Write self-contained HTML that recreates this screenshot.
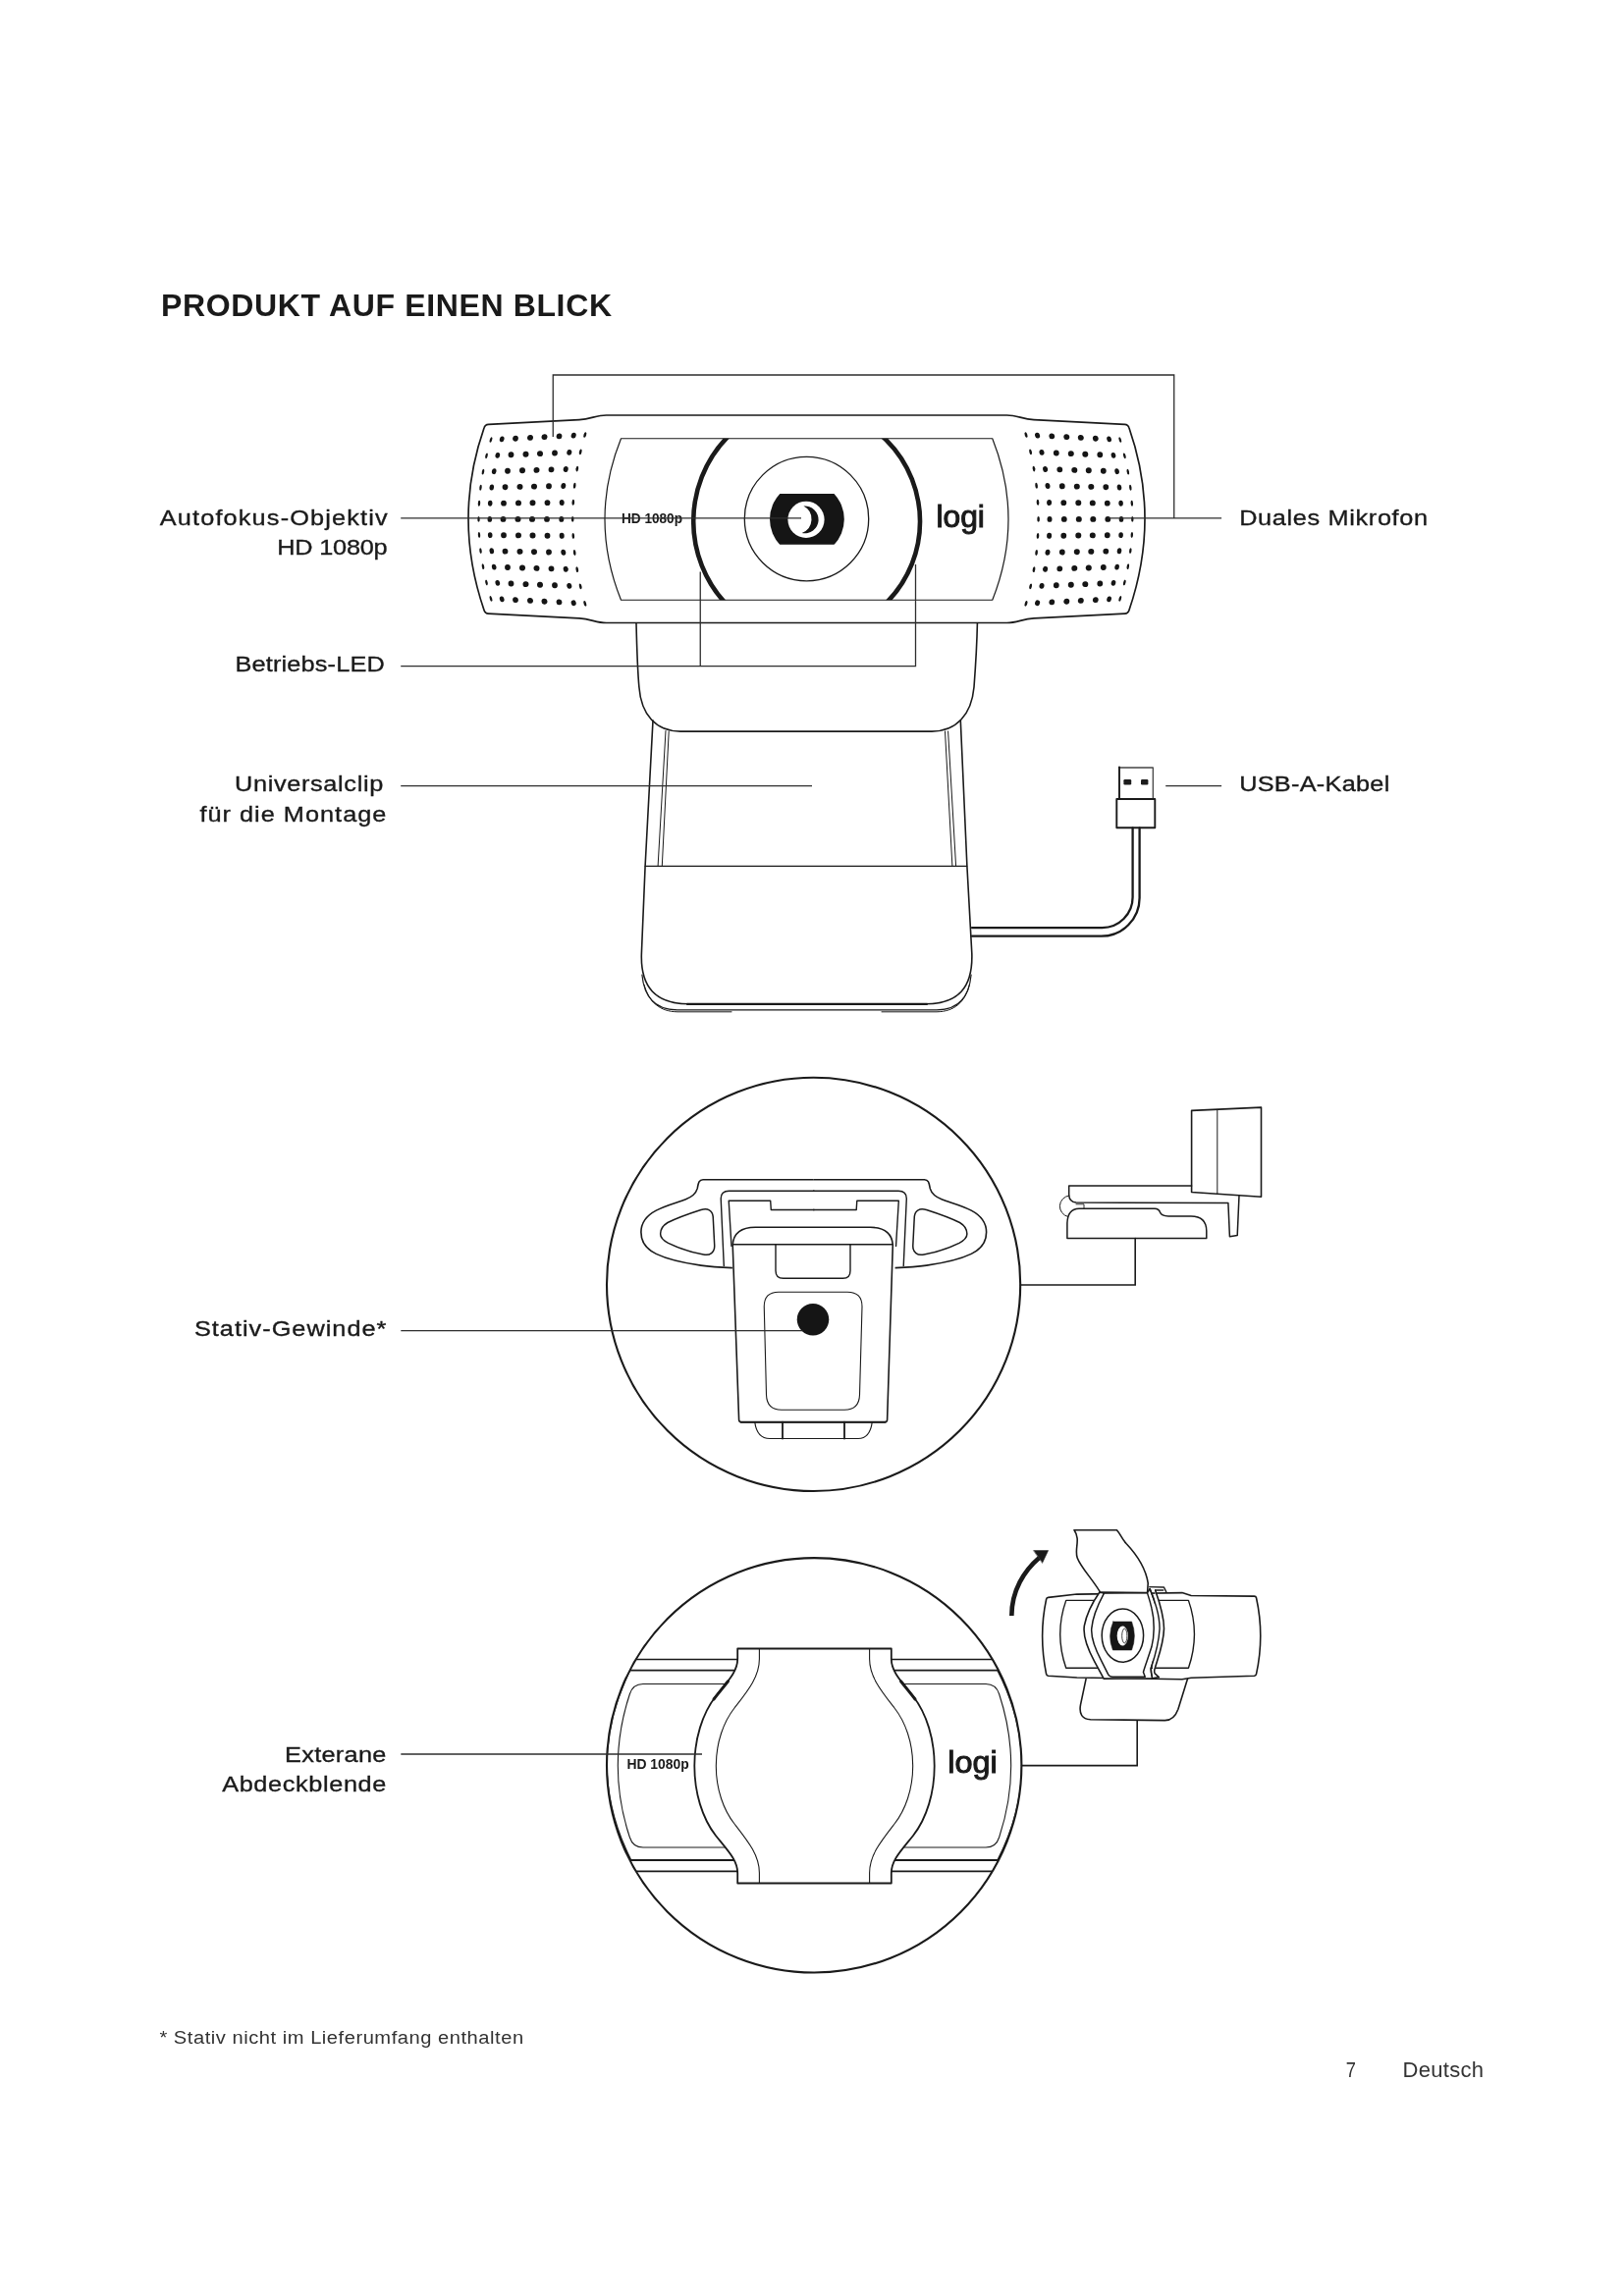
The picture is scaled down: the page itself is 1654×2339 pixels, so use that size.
<!DOCTYPE html>
<html lang="de"><head><meta charset="utf-8"><title>Produkt auf einen Blick</title>
<style>
html,body{margin:0;padding:0;background:#fff;}
body{width:1654px;height:2339px;overflow:hidden;position:relative;}
svg{position:absolute;left:0;top:0;display:block;will-change:transform;}
svg text{font-family:"Liberation Sans",sans-serif;}
</style></head><body>
<svg width="1654" height="2339" viewBox="0 0 1654 2339">
<text transform="translate(164.00,322.40)" font-size="32" font-weight="bold" fill="#1a1a1a" text-anchor="start" xml:space="preserve" textLength="459.00" lengthAdjust="spacing">PRODUKT AUF EINEN BLICK</text>
<text transform="translate(162.80,535.00) scale(1.1200,1)" font-size="22.6" font-weight="normal" fill="#1a1a1a" text-anchor="start" xml:space="preserve" stroke="#1a1a1a" stroke-width="0.35" textLength="207.05" lengthAdjust="spacing">Autofokus-Objektiv</text>
<text transform="translate(282.20,565.30) scale(1.1200,1)" font-size="22.6" font-weight="normal" fill="#1a1a1a" text-anchor="start" xml:space="preserve" stroke="#1a1a1a" stroke-width="0.35" textLength="100.45" lengthAdjust="spacing">HD 1080p</text>
<text transform="translate(239.50,684.30) scale(1.1200,1)" font-size="22.6" font-weight="normal" fill="#1a1a1a" text-anchor="start" xml:space="preserve" stroke="#1a1a1a" stroke-width="0.35" textLength="135.89" lengthAdjust="spacing">Betriebs-LED</text>
<text transform="translate(239.00,806.30) scale(1.1200,1)" font-size="22.6" font-weight="normal" fill="#1a1a1a" text-anchor="start" xml:space="preserve" stroke="#1a1a1a" stroke-width="0.35" textLength="135.09" lengthAdjust="spacing">Universalclip</text>
<text transform="translate(203.40,837.40) scale(1.1200,1)" font-size="22.6" font-weight="normal" fill="#1a1a1a" text-anchor="start" xml:space="preserve" stroke="#1a1a1a" stroke-width="0.35" textLength="169.64" lengthAdjust="spacing">für die Montage</text>
<text transform="translate(1262.20,535.00) scale(1.1200,1)" font-size="22.6" font-weight="normal" fill="#1a1a1a" text-anchor="start" xml:space="preserve" stroke="#1a1a1a" stroke-width="0.35" textLength="171.34" lengthAdjust="spacing">Duales Mikrofon</text>
<text transform="translate(1262.20,806.30) scale(1.1200,1)" font-size="22.6" font-weight="normal" fill="#1a1a1a" text-anchor="start" xml:space="preserve" stroke="#1a1a1a" stroke-width="0.35" textLength="136.70" lengthAdjust="spacing">USB-A-Kabel</text>
<text transform="translate(197.90,1361.00) scale(1.1200,1)" font-size="22.6" font-weight="normal" fill="#1a1a1a" text-anchor="start" xml:space="preserve" stroke="#1a1a1a" stroke-width="0.35" textLength="174.55" lengthAdjust="spacing">Stativ-Gewinde*</text>
<text transform="translate(290.00,1794.50) scale(1.1200,1)" font-size="22.6" font-weight="normal" fill="#1a1a1a" text-anchor="start" xml:space="preserve" stroke="#1a1a1a" stroke-width="0.35" textLength="92.32" lengthAdjust="spacing">Exterane</text>
<text transform="translate(226.20,1824.50) scale(1.1200,1)" font-size="22.6" font-weight="normal" fill="#1a1a1a" text-anchor="start" xml:space="preserve" stroke="#1a1a1a" stroke-width="0.35" textLength="149.29" lengthAdjust="spacing">Abdeckblende</text>
<text transform="translate(162.40,2082.00) scale(1.0600,1)" font-size="19" font-weight="normal" fill="#333" text-anchor="start" xml:space="preserve" textLength="349.72" lengthAdjust="spacing">* Stativ nicht im Lieferumfang enthalten</text>
<text transform="translate(1370.80,2116.40)" font-size="22" font-weight="normal" fill="#333" text-anchor="start" xml:space="preserve" textLength="10.20" lengthAdjust="spacingAndGlyphs">7</text>
<text transform="translate(1428.60,2116.40)" font-size="22" font-weight="normal" fill="#333" text-anchor="start" xml:space="preserve" textLength="82.40" lengthAdjust="spacing">Deutsch</text>
<path d="M 617.5,423 L 1025.5,423 C 1036,423 1041,427 1053,427.7 L 1145.5,432.3 Q 1149,432.5 1150,436 Q 1182,528 1150,621.5 Q 1149,625 1145.5,625.2 L 1053,629.8 C 1041,630.5 1036,634.5 1025.5,634.5 L 617.5,634.5 C 607,634.5 602,630.5 590,629.8 L 497.5,625.2 Q 494,625 493,621.5 Q 461,528 493,436 Q 494,432.5 497.5,432.3 L 590,427.7 C 602,427 607,423 617.5,423 Z" fill="none" stroke="#1a1a1a" stroke-width="1.7" stroke-linejoin="round" stroke-linecap="round" />
<path d="M 632.5,446.75 L 1010.75,446.75 Q 1043.25,529 1010.75,611.25 L 632.5,611.25 Q 599.5,529 632.5,446.75 Z" fill="none" stroke="#1a1a1a" stroke-width="1.2" stroke-linejoin="round" stroke-linecap="round" />
<clipPath id="pcl"><rect x="690" y="446.75" width="75" height="164.5"/></clipPath><clipPath id="pcr"><rect x="885" y="446.75" width="75" height="164.5"/></clipPath>
<circle cx="829.4" cy="530.95" r="123.2" fill="none" stroke="#1a1a1a" stroke-width="4.6" clip-path="url(#pcl)"/>
<circle cx="819.86" cy="531.28" r="117.17" fill="none" stroke="#1a1a1a" stroke-width="4.6" clip-path="url(#pcr)"/>
<circle cx="821.5" cy="528.6" r="63.2" fill="none" stroke="#1a1a1a" stroke-width="1.3"/>
<clipPath id="lc"><rect x="780" y="503.1" width="84" height="51.7"/></clipPath>
<circle cx="821.9" cy="529" r="37.9" fill="#151515" clip-path="url(#lc)"/>
<circle cx="821" cy="529.3" r="18.6" fill="#fff"/>
<path d="M 818.4,515.6 A 13.9 13.9 0 1 1 816.7,543 A 15 15 0 0 0 818.4,515.6 Z" fill="#151515"/>
<text transform="translate(633.00,532.60)" font-size="14" font-weight="bold" fill="#1a1a1a" text-anchor="start" xml:space="preserve" textLength="62.00" lengthAdjust="spacingAndGlyphs">HD 1080p</text>
<text transform="translate(953.4,537.4)" font-size="31" textLength="49.5" lengthAdjust="spacingAndGlyphs" fill="#1a1a1a" stroke="#1a1a1a" stroke-width="1.0">logi</text>
<g fill="#151515"><ellipse cx="500.0" cy="448.0" rx="1.2" ry="2.95" transform="rotate(16.8 500.0 448.0)"/><ellipse cx="511.2" cy="447.4" rx="2.3" ry="2.95" transform="rotate(16.8 511.2 447.4)"/><ellipse cx="525.0" cy="446.7" rx="2.9" ry="2.95" transform="rotate(6.7 525.0 446.7)"/><ellipse cx="540.0" cy="445.9" rx="3.0" ry="2.95" transform="rotate(6.7 540.0 445.9)"/><ellipse cx="554.5" cy="445.1" rx="3.0" ry="2.95" transform="rotate(6.7 554.5 445.1)"/><ellipse cx="569.5" cy="444.4" rx="2.9" ry="2.95" transform="rotate(6.7 569.5 444.4)"/><ellipse cx="584.2" cy="443.6" rx="2.5" ry="2.95" transform="rotate(16.8 584.2 443.6)"/><ellipse cx="595.8" cy="443.0" rx="1.3" ry="2.95" transform="rotate(16.8 595.8 443.0)"/><ellipse cx="495.5" cy="464.3" rx="1.2" ry="2.95" transform="rotate(13.5 495.5 464.3)"/><ellipse cx="506.8" cy="463.9" rx="2.3" ry="2.95" transform="rotate(13.5 506.8 463.9)"/><ellipse cx="520.5" cy="463.3" rx="2.9" ry="2.95" transform="rotate(5.4 520.5 463.3)"/><ellipse cx="535.5" cy="462.7" rx="3.0" ry="2.95" transform="rotate(5.4 535.5 462.7)"/><ellipse cx="550.0" cy="462.1" rx="3.0" ry="2.95" transform="rotate(5.4 550.0 462.1)"/><ellipse cx="565.0" cy="461.5" rx="2.9" ry="2.95" transform="rotate(5.4 565.0 461.5)"/><ellipse cx="579.8" cy="460.9" rx="2.5" ry="2.95" transform="rotate(13.5 579.8 460.9)"/><ellipse cx="591.2" cy="460.4" rx="1.3" ry="2.95" transform="rotate(13.5 591.2 460.4)"/><ellipse cx="492.0" cy="480.6" rx="1.2" ry="2.95" transform="rotate(10.2 492.0 480.6)"/><ellipse cx="503.2" cy="480.2" rx="2.3" ry="2.95" transform="rotate(10.2 503.2 480.2)"/><ellipse cx="517.0" cy="479.8" rx="2.9" ry="2.95" transform="rotate(4.1 517.0 479.8)"/><ellipse cx="532.0" cy="479.3" rx="3.0" ry="2.95" transform="rotate(4.1 532.0 479.3)"/><ellipse cx="546.5" cy="478.9" rx="3.0" ry="2.95" transform="rotate(4.1 546.5 478.9)"/><ellipse cx="561.5" cy="478.4" rx="2.9" ry="2.95" transform="rotate(4.1 561.5 478.4)"/><ellipse cx="576.2" cy="478.0" rx="2.5" ry="2.95" transform="rotate(10.2 576.2 478.0)"/><ellipse cx="587.8" cy="477.6" rx="1.3" ry="2.95" transform="rotate(10.2 587.8 477.6)"/><ellipse cx="489.5" cy="496.7" rx="1.2" ry="2.95" transform="rotate(6.9 489.5 496.7)"/><ellipse cx="500.8" cy="496.5" rx="2.3" ry="2.95" transform="rotate(6.9 500.8 496.5)"/><ellipse cx="514.5" cy="496.2" rx="2.9" ry="2.95" transform="rotate(2.7 514.5 496.2)"/><ellipse cx="529.5" cy="495.9" rx="3.0" ry="2.95" transform="rotate(2.7 529.5 495.9)"/><ellipse cx="544.0" cy="495.6" rx="3.0" ry="2.95" transform="rotate(2.7 544.0 495.6)"/><ellipse cx="559.0" cy="495.3" rx="2.9" ry="2.95" transform="rotate(2.7 559.0 495.3)"/><ellipse cx="573.8" cy="495.0" rx="2.5" ry="2.95" transform="rotate(6.9 573.8 495.0)"/><ellipse cx="585.2" cy="494.8" rx="1.3" ry="2.95" transform="rotate(6.9 585.2 494.8)"/><ellipse cx="488.0" cy="512.8" rx="1.2" ry="2.95" transform="rotate(3.4 488.0 512.8)"/><ellipse cx="499.2" cy="512.7" rx="2.3" ry="2.95" transform="rotate(3.4 499.2 512.7)"/><ellipse cx="513.0" cy="512.6" rx="2.9" ry="2.95" transform="rotate(1.4 513.0 512.6)"/><ellipse cx="528.0" cy="512.4" rx="3.0" ry="2.95" transform="rotate(1.4 528.0 512.4)"/><ellipse cx="542.5" cy="512.3" rx="3.0" ry="2.95" transform="rotate(1.4 542.5 512.3)"/><ellipse cx="557.5" cy="512.1" rx="2.9" ry="2.95" transform="rotate(1.4 557.5 512.1)"/><ellipse cx="572.2" cy="512.0" rx="2.5" ry="2.95" transform="rotate(3.4 572.2 512.0)"/><ellipse cx="583.8" cy="511.8" rx="1.3" ry="2.95" transform="rotate(3.4 583.8 511.8)"/><ellipse cx="487.5" cy="528.9" rx="1.2" ry="2.95" transform="rotate(-0.0 487.5 528.9)"/><ellipse cx="498.8" cy="528.9" rx="2.3" ry="2.95" transform="rotate(-0.0 498.8 528.9)"/><ellipse cx="512.5" cy="528.9" rx="2.9" ry="2.95" transform="rotate(-0.0 512.5 528.9)"/><ellipse cx="527.5" cy="528.9" rx="3.0" ry="2.95" transform="rotate(-0.0 527.5 528.9)"/><ellipse cx="542.0" cy="528.9" rx="3.0" ry="2.95" transform="rotate(-0.0 542.0 528.9)"/><ellipse cx="557.0" cy="528.9" rx="2.9" ry="2.95" transform="rotate(-0.0 557.0 528.9)"/><ellipse cx="571.8" cy="528.9" rx="2.5" ry="2.95" transform="rotate(-0.0 571.8 528.9)"/><ellipse cx="583.2" cy="528.9" rx="1.3" ry="2.95" transform="rotate(-0.0 583.2 528.9)"/><ellipse cx="488.0" cy="545.0" rx="1.2" ry="2.95" transform="rotate(-3.4 488.0 545.0)"/><ellipse cx="499.2" cy="545.1" rx="2.3" ry="2.95" transform="rotate(-3.4 499.2 545.1)"/><ellipse cx="513.0" cy="545.2" rx="2.9" ry="2.95" transform="rotate(-1.4 513.0 545.2)"/><ellipse cx="528.0" cy="545.4" rx="3.0" ry="2.95" transform="rotate(-1.4 528.0 545.4)"/><ellipse cx="542.5" cy="545.5" rx="3.0" ry="2.95" transform="rotate(-1.4 542.5 545.5)"/><ellipse cx="557.5" cy="545.7" rx="2.9" ry="2.95" transform="rotate(-1.4 557.5 545.7)"/><ellipse cx="572.2" cy="545.8" rx="2.5" ry="2.95" transform="rotate(-3.4 572.2 545.8)"/><ellipse cx="583.8" cy="546.0" rx="1.3" ry="2.95" transform="rotate(-3.4 583.8 546.0)"/><ellipse cx="489.5" cy="561.1" rx="1.2" ry="2.95" transform="rotate(-6.9 489.5 561.1)"/><ellipse cx="500.8" cy="561.3" rx="2.3" ry="2.95" transform="rotate(-6.9 500.8 561.3)"/><ellipse cx="514.5" cy="561.6" rx="2.9" ry="2.95" transform="rotate(-2.7 514.5 561.6)"/><ellipse cx="529.5" cy="561.9" rx="3.0" ry="2.95" transform="rotate(-2.7 529.5 561.9)"/><ellipse cx="544.0" cy="562.2" rx="3.0" ry="2.95" transform="rotate(-2.7 544.0 562.2)"/><ellipse cx="559.0" cy="562.5" rx="2.9" ry="2.95" transform="rotate(-2.7 559.0 562.5)"/><ellipse cx="573.8" cy="562.8" rx="2.5" ry="2.95" transform="rotate(-6.9 573.8 562.8)"/><ellipse cx="585.2" cy="563.0" rx="1.3" ry="2.95" transform="rotate(-6.9 585.2 563.0)"/><ellipse cx="492.0" cy="577.2" rx="1.2" ry="2.95" transform="rotate(-10.2 492.0 577.2)"/><ellipse cx="503.2" cy="577.6" rx="2.3" ry="2.95" transform="rotate(-10.2 503.2 577.6)"/><ellipse cx="517.0" cy="578.0" rx="2.9" ry="2.95" transform="rotate(-4.1 517.0 578.0)"/><ellipse cx="532.0" cy="578.5" rx="3.0" ry="2.95" transform="rotate(-4.1 532.0 578.5)"/><ellipse cx="546.5" cy="578.9" rx="3.0" ry="2.95" transform="rotate(-4.1 546.5 578.9)"/><ellipse cx="561.5" cy="579.4" rx="2.9" ry="2.95" transform="rotate(-4.1 561.5 579.4)"/><ellipse cx="576.2" cy="579.8" rx="2.5" ry="2.95" transform="rotate(-10.2 576.2 579.8)"/><ellipse cx="587.8" cy="580.2" rx="1.3" ry="2.95" transform="rotate(-10.2 587.8 580.2)"/><ellipse cx="495.5" cy="593.5" rx="1.2" ry="2.95" transform="rotate(-13.5 495.5 593.5)"/><ellipse cx="506.8" cy="593.9" rx="2.3" ry="2.95" transform="rotate(-13.5 506.8 593.9)"/><ellipse cx="520.5" cy="594.5" rx="2.9" ry="2.95" transform="rotate(-5.4 520.5 594.5)"/><ellipse cx="535.5" cy="595.1" rx="3.0" ry="2.95" transform="rotate(-5.4 535.5 595.1)"/><ellipse cx="550.0" cy="595.7" rx="3.0" ry="2.95" transform="rotate(-5.4 550.0 595.7)"/><ellipse cx="565.0" cy="596.3" rx="2.9" ry="2.95" transform="rotate(-5.4 565.0 596.3)"/><ellipse cx="579.8" cy="596.9" rx="2.5" ry="2.95" transform="rotate(-13.5 579.8 596.9)"/><ellipse cx="591.2" cy="597.4" rx="1.3" ry="2.95" transform="rotate(-13.5 591.2 597.4)"/><ellipse cx="500.0" cy="609.8" rx="1.2" ry="2.95" transform="rotate(-16.8 500.0 609.8)"/><ellipse cx="511.2" cy="610.4" rx="2.3" ry="2.95" transform="rotate(-16.8 511.2 610.4)"/><ellipse cx="525.0" cy="611.1" rx="2.9" ry="2.95" transform="rotate(-6.7 525.0 611.1)"/><ellipse cx="540.0" cy="611.9" rx="3.0" ry="2.95" transform="rotate(-6.7 540.0 611.9)"/><ellipse cx="554.5" cy="612.7" rx="3.0" ry="2.95" transform="rotate(-6.7 554.5 612.7)"/><ellipse cx="569.5" cy="613.4" rx="2.9" ry="2.95" transform="rotate(-6.7 569.5 613.4)"/><ellipse cx="584.2" cy="614.2" rx="2.5" ry="2.95" transform="rotate(-16.8 584.2 614.2)"/><ellipse cx="595.8" cy="614.8" rx="1.3" ry="2.95" transform="rotate(-16.8 595.8 614.8)"/></g>
<g fill="#151515" transform="matrix(-1 0 0 1 1640.8 0)"><ellipse cx="500.0" cy="448.0" rx="1.2" ry="2.95" transform="rotate(16.8 500.0 448.0)"/><ellipse cx="511.2" cy="447.4" rx="2.3" ry="2.95" transform="rotate(16.8 511.2 447.4)"/><ellipse cx="525.0" cy="446.7" rx="2.9" ry="2.95" transform="rotate(6.7 525.0 446.7)"/><ellipse cx="540.0" cy="445.9" rx="3.0" ry="2.95" transform="rotate(6.7 540.0 445.9)"/><ellipse cx="554.5" cy="445.1" rx="3.0" ry="2.95" transform="rotate(6.7 554.5 445.1)"/><ellipse cx="569.5" cy="444.4" rx="2.9" ry="2.95" transform="rotate(6.7 569.5 444.4)"/><ellipse cx="584.2" cy="443.6" rx="2.5" ry="2.95" transform="rotate(16.8 584.2 443.6)"/><ellipse cx="595.8" cy="443.0" rx="1.3" ry="2.95" transform="rotate(16.8 595.8 443.0)"/><ellipse cx="495.5" cy="464.3" rx="1.2" ry="2.95" transform="rotate(13.5 495.5 464.3)"/><ellipse cx="506.8" cy="463.9" rx="2.3" ry="2.95" transform="rotate(13.5 506.8 463.9)"/><ellipse cx="520.5" cy="463.3" rx="2.9" ry="2.95" transform="rotate(5.4 520.5 463.3)"/><ellipse cx="535.5" cy="462.7" rx="3.0" ry="2.95" transform="rotate(5.4 535.5 462.7)"/><ellipse cx="550.0" cy="462.1" rx="3.0" ry="2.95" transform="rotate(5.4 550.0 462.1)"/><ellipse cx="565.0" cy="461.5" rx="2.9" ry="2.95" transform="rotate(5.4 565.0 461.5)"/><ellipse cx="579.8" cy="460.9" rx="2.5" ry="2.95" transform="rotate(13.5 579.8 460.9)"/><ellipse cx="591.2" cy="460.4" rx="1.3" ry="2.95" transform="rotate(13.5 591.2 460.4)"/><ellipse cx="492.0" cy="480.6" rx="1.2" ry="2.95" transform="rotate(10.2 492.0 480.6)"/><ellipse cx="503.2" cy="480.2" rx="2.3" ry="2.95" transform="rotate(10.2 503.2 480.2)"/><ellipse cx="517.0" cy="479.8" rx="2.9" ry="2.95" transform="rotate(4.1 517.0 479.8)"/><ellipse cx="532.0" cy="479.3" rx="3.0" ry="2.95" transform="rotate(4.1 532.0 479.3)"/><ellipse cx="546.5" cy="478.9" rx="3.0" ry="2.95" transform="rotate(4.1 546.5 478.9)"/><ellipse cx="561.5" cy="478.4" rx="2.9" ry="2.95" transform="rotate(4.1 561.5 478.4)"/><ellipse cx="576.2" cy="478.0" rx="2.5" ry="2.95" transform="rotate(10.2 576.2 478.0)"/><ellipse cx="587.8" cy="477.6" rx="1.3" ry="2.95" transform="rotate(10.2 587.8 477.6)"/><ellipse cx="489.5" cy="496.7" rx="1.2" ry="2.95" transform="rotate(6.9 489.5 496.7)"/><ellipse cx="500.8" cy="496.5" rx="2.3" ry="2.95" transform="rotate(6.9 500.8 496.5)"/><ellipse cx="514.5" cy="496.2" rx="2.9" ry="2.95" transform="rotate(2.7 514.5 496.2)"/><ellipse cx="529.5" cy="495.9" rx="3.0" ry="2.95" transform="rotate(2.7 529.5 495.9)"/><ellipse cx="544.0" cy="495.6" rx="3.0" ry="2.95" transform="rotate(2.7 544.0 495.6)"/><ellipse cx="559.0" cy="495.3" rx="2.9" ry="2.95" transform="rotate(2.7 559.0 495.3)"/><ellipse cx="573.8" cy="495.0" rx="2.5" ry="2.95" transform="rotate(6.9 573.8 495.0)"/><ellipse cx="585.2" cy="494.8" rx="1.3" ry="2.95" transform="rotate(6.9 585.2 494.8)"/><ellipse cx="488.0" cy="512.8" rx="1.2" ry="2.95" transform="rotate(3.4 488.0 512.8)"/><ellipse cx="499.2" cy="512.7" rx="2.3" ry="2.95" transform="rotate(3.4 499.2 512.7)"/><ellipse cx="513.0" cy="512.6" rx="2.9" ry="2.95" transform="rotate(1.4 513.0 512.6)"/><ellipse cx="528.0" cy="512.4" rx="3.0" ry="2.95" transform="rotate(1.4 528.0 512.4)"/><ellipse cx="542.5" cy="512.3" rx="3.0" ry="2.95" transform="rotate(1.4 542.5 512.3)"/><ellipse cx="557.5" cy="512.1" rx="2.9" ry="2.95" transform="rotate(1.4 557.5 512.1)"/><ellipse cx="572.2" cy="512.0" rx="2.5" ry="2.95" transform="rotate(3.4 572.2 512.0)"/><ellipse cx="583.8" cy="511.8" rx="1.3" ry="2.95" transform="rotate(3.4 583.8 511.8)"/><ellipse cx="487.5" cy="528.9" rx="1.2" ry="2.95" transform="rotate(-0.0 487.5 528.9)"/><ellipse cx="498.8" cy="528.9" rx="2.3" ry="2.95" transform="rotate(-0.0 498.8 528.9)"/><ellipse cx="512.5" cy="528.9" rx="2.9" ry="2.95" transform="rotate(-0.0 512.5 528.9)"/><ellipse cx="527.5" cy="528.9" rx="3.0" ry="2.95" transform="rotate(-0.0 527.5 528.9)"/><ellipse cx="542.0" cy="528.9" rx="3.0" ry="2.95" transform="rotate(-0.0 542.0 528.9)"/><ellipse cx="557.0" cy="528.9" rx="2.9" ry="2.95" transform="rotate(-0.0 557.0 528.9)"/><ellipse cx="571.8" cy="528.9" rx="2.5" ry="2.95" transform="rotate(-0.0 571.8 528.9)"/><ellipse cx="583.2" cy="528.9" rx="1.3" ry="2.95" transform="rotate(-0.0 583.2 528.9)"/><ellipse cx="488.0" cy="545.0" rx="1.2" ry="2.95" transform="rotate(-3.4 488.0 545.0)"/><ellipse cx="499.2" cy="545.1" rx="2.3" ry="2.95" transform="rotate(-3.4 499.2 545.1)"/><ellipse cx="513.0" cy="545.2" rx="2.9" ry="2.95" transform="rotate(-1.4 513.0 545.2)"/><ellipse cx="528.0" cy="545.4" rx="3.0" ry="2.95" transform="rotate(-1.4 528.0 545.4)"/><ellipse cx="542.5" cy="545.5" rx="3.0" ry="2.95" transform="rotate(-1.4 542.5 545.5)"/><ellipse cx="557.5" cy="545.7" rx="2.9" ry="2.95" transform="rotate(-1.4 557.5 545.7)"/><ellipse cx="572.2" cy="545.8" rx="2.5" ry="2.95" transform="rotate(-3.4 572.2 545.8)"/><ellipse cx="583.8" cy="546.0" rx="1.3" ry="2.95" transform="rotate(-3.4 583.8 546.0)"/><ellipse cx="489.5" cy="561.1" rx="1.2" ry="2.95" transform="rotate(-6.9 489.5 561.1)"/><ellipse cx="500.8" cy="561.3" rx="2.3" ry="2.95" transform="rotate(-6.9 500.8 561.3)"/><ellipse cx="514.5" cy="561.6" rx="2.9" ry="2.95" transform="rotate(-2.7 514.5 561.6)"/><ellipse cx="529.5" cy="561.9" rx="3.0" ry="2.95" transform="rotate(-2.7 529.5 561.9)"/><ellipse cx="544.0" cy="562.2" rx="3.0" ry="2.95" transform="rotate(-2.7 544.0 562.2)"/><ellipse cx="559.0" cy="562.5" rx="2.9" ry="2.95" transform="rotate(-2.7 559.0 562.5)"/><ellipse cx="573.8" cy="562.8" rx="2.5" ry="2.95" transform="rotate(-6.9 573.8 562.8)"/><ellipse cx="585.2" cy="563.0" rx="1.3" ry="2.95" transform="rotate(-6.9 585.2 563.0)"/><ellipse cx="492.0" cy="577.2" rx="1.2" ry="2.95" transform="rotate(-10.2 492.0 577.2)"/><ellipse cx="503.2" cy="577.6" rx="2.3" ry="2.95" transform="rotate(-10.2 503.2 577.6)"/><ellipse cx="517.0" cy="578.0" rx="2.9" ry="2.95" transform="rotate(-4.1 517.0 578.0)"/><ellipse cx="532.0" cy="578.5" rx="3.0" ry="2.95" transform="rotate(-4.1 532.0 578.5)"/><ellipse cx="546.5" cy="578.9" rx="3.0" ry="2.95" transform="rotate(-4.1 546.5 578.9)"/><ellipse cx="561.5" cy="579.4" rx="2.9" ry="2.95" transform="rotate(-4.1 561.5 579.4)"/><ellipse cx="576.2" cy="579.8" rx="2.5" ry="2.95" transform="rotate(-10.2 576.2 579.8)"/><ellipse cx="587.8" cy="580.2" rx="1.3" ry="2.95" transform="rotate(-10.2 587.8 580.2)"/><ellipse cx="495.5" cy="593.5" rx="1.2" ry="2.95" transform="rotate(-13.5 495.5 593.5)"/><ellipse cx="506.8" cy="593.9" rx="2.3" ry="2.95" transform="rotate(-13.5 506.8 593.9)"/><ellipse cx="520.5" cy="594.5" rx="2.9" ry="2.95" transform="rotate(-5.4 520.5 594.5)"/><ellipse cx="535.5" cy="595.1" rx="3.0" ry="2.95" transform="rotate(-5.4 535.5 595.1)"/><ellipse cx="550.0" cy="595.7" rx="3.0" ry="2.95" transform="rotate(-5.4 550.0 595.7)"/><ellipse cx="565.0" cy="596.3" rx="2.9" ry="2.95" transform="rotate(-5.4 565.0 596.3)"/><ellipse cx="579.8" cy="596.9" rx="2.5" ry="2.95" transform="rotate(-13.5 579.8 596.9)"/><ellipse cx="591.2" cy="597.4" rx="1.3" ry="2.95" transform="rotate(-13.5 591.2 597.4)"/><ellipse cx="500.0" cy="609.8" rx="1.2" ry="2.95" transform="rotate(-16.8 500.0 609.8)"/><ellipse cx="511.2" cy="610.4" rx="2.3" ry="2.95" transform="rotate(-16.8 511.2 610.4)"/><ellipse cx="525.0" cy="611.1" rx="2.9" ry="2.95" transform="rotate(-6.7 525.0 611.1)"/><ellipse cx="540.0" cy="611.9" rx="3.0" ry="2.95" transform="rotate(-6.7 540.0 611.9)"/><ellipse cx="554.5" cy="612.7" rx="3.0" ry="2.95" transform="rotate(-6.7 554.5 612.7)"/><ellipse cx="569.5" cy="613.4" rx="2.9" ry="2.95" transform="rotate(-6.7 569.5 613.4)"/><ellipse cx="584.2" cy="614.2" rx="2.5" ry="2.95" transform="rotate(-16.8 584.2 614.2)"/><ellipse cx="595.8" cy="614.8" rx="1.3" ry="2.95" transform="rotate(-16.8 595.8 614.8)"/></g>
<path d="M 648,635 C 648.6,660 649.5,685 650.9,700 C 653,728 668,745.1 693,745.1 L 949,745.1 C 974,745.1 989.5,728 992,700 C 993.5,680 995,655 995.4,635" fill="none" stroke="#1a1a1a" stroke-width="1.6" stroke-linejoin="round" stroke-linecap="round" />
<path d="M 665,734 L 657.1,882.3 L 653.4,971 C 652,1006 668,1022.7 701.4,1022.7 L 942.8,1022.7 C 976,1022.7 991,1006 989.8,971 L 984.9,882.3 L 978.3,734" fill="none" stroke="#1a1a1a" stroke-width="1.6" stroke-linejoin="round" stroke-linecap="round" />
<path d="M 657.1,882.3 L 984.7,882.3" fill="none" stroke="#1a1a1a" stroke-width="1.3" stroke-linejoin="round" stroke-linecap="round" />
<path d="M 700,1022.9 L 944,1022.9" fill="none" stroke="#1a1a1a" stroke-width="2.1" stroke-linejoin="round" stroke-linecap="round" />
<path d="M 678,744.5 L 670.1,882.3 M 681.2,745 L 674.3,882.3 M 962.5,745 L 969.9,882.3 M 965.6,745 L 973.6,882.3" fill="none" stroke="#1a1a1a" stroke-width="1.0" stroke-linejoin="round" stroke-linecap="round" />
<path d="M 653.9,993 C 656,1016 668,1028.8 690,1028.8 L 954,1028.8 C 976,1028.8 987,1016 989.1,993" fill="none" stroke="#1a1a1a" stroke-width="1.2" stroke-linejoin="round" stroke-linecap="round" />
<path d="M 656,1003 C 661,1021 672,1030.5 690,1030.8 L 745,1030.8 M 898,1030.8 L 954,1030.8 C 972,1030.5 983,1021 987.5,1003" fill="none" stroke="#1a1a1a" stroke-width="1.0" stroke-linejoin="round" stroke-linecap="round" />
<path d="M 990,945.1 L 1122.5,945.1 A 31.1 31.1 0 0 0 1153.6,914 L 1153.6,843.3" fill="none" stroke="#1a1a1a" stroke-width="2.3" stroke-linejoin="round" stroke-linecap="round" />
<path d="M 990,953.7 L 1121.7,953.7 A 38.9 38.9 0 0 0 1160.6,914.8 L 1160.6,843.3" fill="none" stroke="#1a1a1a" stroke-width="2.3" stroke-linejoin="round" stroke-linecap="round" />
<path d="M 1139.5,782 L 1174.3,782 L 1174.3,814" fill="none" stroke="#444" stroke-width="1.3" stroke-linejoin="round" stroke-linecap="round" />
<path d="M 1140,814 L 1140,781.5" fill="none" stroke="#1a1a1a" stroke-width="1.9" stroke-linejoin="round" stroke-linecap="round" />
<path d="M 1137.3,814 L 1176.3,814 L 1176.3,843.3 L 1137.3,843.3 Z" fill="none" stroke="#1a1a1a" stroke-width="1.9" stroke-linejoin="round" stroke-linecap="round" />
<rect x="1144.4" y="794" width="7.8" height="5.5" rx="1.2" fill="#1c1c1c"/><rect x="1162" y="794" width="7.4" height="5.5" rx="1.2" fill="#1c1c1c"/>
<circle cx="828.6" cy="1308.4" r="210.6" fill="none" stroke="#1a1a1a" stroke-width="2.1"/>
<path d="M 745.9,1291.6 C 730,1291 720,1290 713.9,1289.1 C 695,1286.5 680,1283 668.3,1277.4 C 657,1272 652.9,1264 652.9,1255.3 C 652.9,1245 659,1238 668.3,1233.1 C 678,1228 690,1225 697.9,1222 C 706,1219 709,1215 710.2,1210.9 C 711.2,1206 711.5,1201.7 716,1201.7 L 828.75,1201.7" fill="none" stroke="#1a1a1a" stroke-width="1.6" stroke-linejoin="round" stroke-linecap="butt" />
<path d="M 911.60 1291.60 C 927.50 1291.00 937.50 1290.00 943.60 1289.10 C 962.50 1286.50 977.50 1283.00 989.20 1277.40 C 1000.50 1272.00 1004.60 1264.00 1004.60 1255.30 C 1004.60 1245.00 998.50 1238.00 989.20 1233.10 C 979.50 1228.00 967.50 1225.00 959.60 1222.00 C 951.50 1219.00 948.50 1215.00 947.30 1210.90 C 946.30 1206.00 946.00 1201.70 941.50 1201.70 L 828.75 1201.70" fill="none" stroke="#1a1a1a" stroke-width="1.6" stroke-linejoin="round" stroke-linecap="butt" />
<path d="M 672.6,1257.1 C 672.6,1252 675,1248.5 680,1245.5 C 690,1240.5 703,1236 713.9,1232.5 C 721,1230.5 725.5,1233 726.2,1239.3 L 727.7,1268.8 C 728,1276 723,1279.5 716.4,1278 C 705,1276 690,1271 680.6,1266.4 C 675,1263.5 672.6,1261 672.6,1257.1 Z" fill="none" stroke="#1a1a1a" stroke-width="1.5" stroke-linejoin="round" stroke-linecap="round" />
<path d="M 984.90 1257.10 C 984.90 1252.00 982.50 1248.50 977.50 1245.50 C 967.50 1240.50 954.50 1236.00 943.60 1232.50 C 936.50 1230.50 932.00 1233.00 931.30 1239.30 L 929.80 1268.80 C 929.50 1276.00 934.50 1279.50 941.10 1278.00 C 952.50 1276.00 967.50 1271.00 976.90 1266.40 C 982.50 1263.50 984.90 1261.00 984.90 1257.10 Z" fill="none" stroke="#1a1a1a" stroke-width="1.5" stroke-linejoin="round" stroke-linecap="round" />
<path d="M 737.3,1290 L 734.2,1221 Q 734.2,1213.2 742.5,1213.2 L 829.5,1213.2" fill="none" stroke="#1a1a1a" stroke-width="1.4" stroke-linejoin="round" stroke-linecap="butt" />
<path d="M 920.20 1290.00 L 923.30 1221.00 Q 923.30 1213.20 915.00 1213.20 L 828.00 1213.20" fill="none" stroke="#1a1a1a" stroke-width="1.4" stroke-linejoin="round" stroke-linecap="butt" />
<path d="M 745,1270 L 742.2,1223.3 L 784.7,1223.3 L 785.3,1232.5 L 829.5,1232.5" fill="none" stroke="#1a1a1a" stroke-width="1.4" stroke-linejoin="round" stroke-linecap="butt" />
<path d="M 912.50 1270.00 L 915.30 1223.30 L 872.80 1223.30 L 872.20 1232.50 L 828.00 1232.50" fill="none" stroke="#1a1a1a" stroke-width="1.4" stroke-linejoin="round" stroke-linecap="butt" />
<path d="M 746.2,1268 C 747.2,1256 755,1250.3 769.3,1250.3 L 886.5,1250.3 C 900.5,1250.3 908.3,1256 909.3,1268 L 903.6,1446.5 Q 903.5,1448.75 901.2,1448.75 L 755,1448.75 Q 752.7,1448.75 752.6,1446.5 Z" fill="#fff" stroke="#1a1a1a" stroke-width="1.6" stroke-linejoin="round" stroke-linecap="round" />
<path d="M 746.2,1267.8 L 909.3,1267.8" fill="none" stroke="#1a1a1a" stroke-width="1.4" stroke-linejoin="round" stroke-linecap="round" />
<path d="M 790,1267.8 L 790,1294.5 Q 790,1302.3 797.8,1302.3 L 858.5,1302.3 Q 866,1302.3 866,1294.5 L 866,1267.8" fill="none" stroke="#1a1a1a" stroke-width="1.4" stroke-linejoin="round" stroke-linecap="round" />
<path d="M 793,1316.25 L 863,1316.25 Q 878,1316.25 878,1331 L 875.5,1421 Q 875,1436.25 860,1436.25 L 796,1436.25 Q 781,1436.25 780.5,1421 L 778.25,1331 Q 778.25,1316.25 793,1316.25 Z" fill="none" stroke="#1a1a1a" stroke-width="1.1" stroke-linejoin="round" stroke-linecap="round" />
<circle cx="828" cy="1344.25" r="16.25" fill="#151515"/>
<path d="M 768.75,1448.75 Q 771,1465.5 784,1465.5 L 874,1465.5 Q 886,1465.5 888.25,1448.75" fill="none" stroke="#1a1a1a" stroke-width="1.2" stroke-linejoin="round" stroke-linecap="round" />
<path d="M 797,1448.75 L 797,1465.5 M 860,1448.75 L 860,1465.5" fill="none" stroke="#1a1a1a" stroke-width="1.8" stroke-linejoin="round" stroke-linecap="round" />
<path d="M 754.5,1448.75 L 901.7,1448.75" fill="none" stroke="#1a1a1a" stroke-width="2.0" stroke-linejoin="round" stroke-linecap="round" />
<path d="M 1039.2,1309 L 1156.2,1309 L 1156.2,1261.6" fill="none" stroke="#1a1a1a" stroke-width="1.6" stroke-linejoin="miter" stroke-linecap="round" />
<path d="M 1213.6,1131.4 L 1284.5,1128.1 L 1284.5,1219.2 L 1213.6,1214.5 Z" fill="none" stroke="#1a1a1a" stroke-width="1.6" stroke-linejoin="round" stroke-linecap="round" />
<path d="M 1239.8,1130.3 L 1239.8,1216.4" fill="none" stroke="#1a1a1a" stroke-width="1.0" stroke-linejoin="round" stroke-linecap="round" />
<path d="M 1213.6,1208.1 L 1088.7,1208.1 L 1088.7,1217 Q 1089,1224.7 1096,1225 L 1250.9,1225.6 L 1252.4,1259.8 L 1260.2,1258.5 L 1262,1218" fill="none" stroke="#1a1a1a" stroke-width="1.5" stroke-linejoin="round" stroke-linecap="round" />
<path d="M 1088.7,1218 A 11 11 0 0 0 1087.6,1239.5" fill="none" stroke="#1a1a1a" stroke-width="1.0" stroke-linejoin="round" stroke-linecap="round" />
<path d="M 1096,1226.8 L 1104,1226.8 L 1104,1231" fill="none" stroke="#1a1a1a" stroke-width="0.9" stroke-linejoin="round" stroke-linecap="round" />
<path d="M 1086.9,1261.6 L 1086.9,1246 Q 1087.5,1231.2 1099,1231.2 L 1176,1231.2 Q 1180.5,1231.4 1181.5,1235 Q 1183,1238.9 1190,1238.9 L 1213,1238.9 Q 1228.8,1239 1228.8,1254 L 1228.8,1261.6 Z" fill="none" stroke="#1a1a1a" stroke-width="1.5" stroke-linejoin="round" stroke-linecap="round" />
<clipPath id="c3"><circle cx="829.2" cy="1798.3" r="211.2"/></clipPath>
<g clip-path="url(#c3)">
<path d="M 600,1690.5 L 1060,1690.5 M 600,1906.3 L 1060,1906.3" fill="none" stroke="#1a1a1a" stroke-width="1.7" stroke-linejoin="round" stroke-linecap="round" />
<path d="M 641.5,1701.7 L 1016,1701.7 M 642.7,1895 L 1016,1895" fill="none" stroke="#1a1a1a" stroke-width="1.8" stroke-linejoin="round" stroke-linecap="round" />
<path d="M 641.5,1701.7 Q 594,1798.5 642.7,1895" fill="none" stroke="#1a1a1a" stroke-width="1.5" stroke-linejoin="round" stroke-linecap="round" />
<path d="M 1016,1701.7 Q 1065.5,1798.5 1016,1895" fill="none" stroke="#1a1a1a" stroke-width="1.5" stroke-linejoin="round" stroke-linecap="round" />
<path d="M 760,1715.5 L 655,1715.5 Q 644.5,1715.5 641.3,1726 Q 617.3,1799 641.3,1871.5 Q 644.5,1882 655,1882 L 760,1882" fill="none" stroke="#1a1a1a" stroke-width="1.1" stroke-linejoin="round" stroke-linecap="round" />
<path d="M 899.00 1715.50 L 1004.00 1715.50 Q 1014.50 1715.50 1017.70 1726.00 Q 1041.70 1799.00 1017.70 1871.50 Q 1014.50 1882.00 1004.00 1882.00 L 899.00 1882.00" fill="none" stroke="#1a1a1a" stroke-width="1.1" stroke-linejoin="round" stroke-linecap="round" />
<path d="M 751.2,1679.5 L 751.2,1690 C 751.2,1703 741,1713 729,1728 C 715,1746 707.3,1772 707.3,1799 C 707.3,1826 715,1852 729,1870 C 741,1885 751.2,1895 751.2,1908 L 751.2,1918.5 L 907.8,1918.5 L 907.8,1908 C 907.8,1895 918,1885 930,1870 C 944,1852 951.7,1826 951.7,1799 C 951.7,1772 944,1746 930,1728 C 918,1713 907.8,1703 907.8,1690 L 907.8,1679.5 Z" fill="#fff" stroke="#1a1a1a" stroke-width="1.8" stroke-linejoin="round" stroke-linecap="round" />
<path d="M 773.4,1679.5 L 773.4,1690 C 773.4,1708 762,1722 748,1740 C 737,1754 729.3,1775 729.3,1799 C 729.3,1823 737,1844 748,1858 C 762,1876 773.4,1890 773.4,1908 L 773.4,1918.5" fill="none" stroke="#1a1a1a" stroke-width="1.1" stroke-linejoin="round" stroke-linecap="round" />
<path d="M 885.60 1679.50 L 885.60 1690.00 C 885.60 1708.00 897.00 1722.00 911.00 1740.00 C 922.00 1754.00 929.70 1775.00 929.70 1799.00 C 929.70 1823.00 922.00 1844.00 911.00 1858.00 C 897.00 1876.00 885.60 1890.00 885.60 1908.00 L 885.60 1918.50" fill="none" stroke="#1a1a1a" stroke-width="1.1" stroke-linejoin="round" stroke-linecap="round" />
<path d="M 741.5,1712.8 C 737,1718.5 732,1724.5 727,1731" fill="none" stroke="#1a1a1a" stroke-width="3.0" stroke-linejoin="round" stroke-linecap="round" />
<path d="M 917.50 1712.80 C 922.00 1718.50 927.00 1724.50 932.00 1731.00" fill="none" stroke="#1a1a1a" stroke-width="3.0" stroke-linejoin="round" stroke-linecap="round" />
</g>
<circle cx="829.2" cy="1798.3" r="211.2" fill="none" stroke="#1a1a1a" stroke-width="2.1"/>
<text transform="translate(638.40,1802.00)" font-size="14.3" font-weight="bold" fill="#1a1a1a" text-anchor="start" xml:space="preserve" textLength="63.40" lengthAdjust="spacingAndGlyphs">HD 1080p</text>
<text transform="translate(965.2,1805.8)" font-size="31.5" textLength="50.5" lengthAdjust="spacingAndGlyphs" fill="#1a1a1a" stroke="#1a1a1a" stroke-width="1.0">logi</text>
<path d="M 1040.5,1798.6 L 1158.2,1798.6 L 1158.2,1752.7" fill="none" stroke="#1a1a1a" stroke-width="1.6" stroke-linejoin="miter" stroke-linecap="round" />
<path d="M 1106.06 1710.35 L 1100.52 1736.58 Q 1097.93 1750.99 1110.68 1751.73 L 1186.42 1752.65 Q 1195.65 1752.65 1199.90 1741.20 L 1209.51 1710.35" fill="none" stroke="#1a1a1a" stroke-width="1.6" stroke-linejoin="round" stroke-linecap="round" />
<path d="M 1067.64 1627.40 L 1096.82 1624.08 L 1203.97 1622.60 L 1213.20 1625.55 L 1277.49 1626.11 Q 1279.15 1626.11 1279.52 1627.77 Q 1288.02 1666.38 1279.52 1705.36 Q 1279.15 1707.02 1277.49 1707.21 L 1213.20 1709.24 L 1203.97 1710.72 L 1096.82 1709.05 L 1067.64 1707.21 Q 1065.97 1707.02 1065.60 1705.36 Q 1057.66 1666.38 1065.60 1629.25 Q 1065.97 1627.59 1067.64 1627.40 Z" fill="#fff" stroke="#1a1a1a" stroke-width="1.6" stroke-linejoin="round" stroke-linecap="round" />
<path d="M 1117.14 1630.36 L 1085.74 1630.36 Q 1073.73 1664.53 1085.74 1699.26 L 1120.84 1699.26" fill="none" stroke="#1a1a1a" stroke-width="1.4" stroke-linejoin="round" stroke-linecap="round" />
<path d="M 1179.95 1630.36 L 1210.43 1630.36 Q 1222.44 1664.53 1210.43 1699.26 L 1172.56 1699.26" fill="none" stroke="#1a1a1a" stroke-width="1.4" stroke-linejoin="round" stroke-linecap="round" />
<path d="M 1170.72 1616.63 L 1185.50 1617.00 L 1187.71 1621.58 M 1176.63 1619.95 L 1184.76 1619.95" fill="none" stroke="#1a1a1a" stroke-width="1.4" stroke-linejoin="round" stroke-linecap="round" />
<path d="M 1094.05 1558.68 L 1137.46 1558.68 C 1141.53 1563.30 1142.27 1567.00 1147.07 1572.54 C 1156.31 1582.33 1166.65 1596.18 1169.24 1612.81 L 1168.50 1623.52 L 1121.39 1623.52 C 1113.45 1609.48 1100.89 1597.11 1097.19 1586.95 C 1094.05 1577.71 1100.89 1568.47 1094.05 1558.68 Z" fill="#fff" stroke="#1a1a1a" stroke-width="1.6" stroke-linejoin="round" stroke-linecap="round" />
<path d="M 1119.73 1622.17 C 1114.56 1629.56 1107.17 1641.38 1104.36 1656.16 C 1102.36 1668.72 1109.38 1682.76 1114.56 1692.37 L 1124.16 1710.10 L 1173.67 1709.73 C 1172.93 1706.41 1172.19 1703.45 1172.19 1699.76 C 1175.89 1688.67 1180.32 1673.89 1181.06 1659.11 C 1181.06 1644.34 1175.89 1631.04 1171.09 1618.47 L 1168.50 1622.54 Z" fill="#fff" stroke="#1a1a1a" stroke-width="1.6" stroke-linejoin="round" stroke-linecap="round" />
<path d="M 1176.63 1619.95 C 1181.06 1632.51 1185.50 1645.81 1185.50 1659.11 C 1185.13 1673.89 1179.58 1688.67 1176.63 1698.28 C 1175.52 1701.23 1175.30 1703.45 1176.26 1704.93 L 1180.32 1708.62 L 1173.67 1709.73" fill="#fff" stroke="#1a1a1a" stroke-width="1.6" stroke-linejoin="round" stroke-linecap="round" />
<path d="M 1171.09 1618.47 C 1175.89 1631.04 1181.06 1644.34 1181.06 1659.11 C 1180.32 1673.89 1175.89 1688.67 1172.19 1699.76 C 1172.19 1703.45 1172.93 1706.41 1173.67 1709.73" fill="none" stroke="#1a1a1a" stroke-width="1.4" stroke-linejoin="round" stroke-linecap="round" />
<path d="M 1124.16 1623.65 C 1118.99 1633.25 1112.71 1648.03 1111.75 1659.11 C 1111.01 1669.46 1116.04 1681.28 1121.95 1692.37 L 1128.60 1705.67 Q 1130.08 1708.25 1133.03 1708.25 L 1166.28 1708.25 L 1164.44 1703.45 C 1165.54 1699.02 1169.98 1687.19 1172.93 1677.59 C 1175.52 1667.98 1176.26 1651.73 1172.93 1638.42 C 1171.46 1631.77 1169.98 1627.34 1168.50 1622.76 L 1123.42 1622.91" fill="none" stroke="#1a1a1a" stroke-width="1.5" stroke-linejoin="round" stroke-linecap="round" />
<ellipse cx="1143.4" cy="1666.1" rx="21.2" ry="27.1" fill="none" stroke="#1a1a1a" stroke-width="1.5"/>
<path d="M 1133.77 1651.95 L 1152.61 1651.95 Q 1158.15 1666.50 1152.61 1681.06 L 1133.40 1681.06 Q 1127.49 1666.50 1133.77 1651.95 Z" fill="#151515" stroke="#1a1a1a" stroke-width="0.5" stroke-linejoin="round" stroke-linecap="round" />
<ellipse cx="1143.3" cy="1666.5" rx="5.6" ry="10" fill="#fff"/>
<ellipse cx="1145.3" cy="1666.5" rx="2.6" ry="7.4" fill="none" stroke="#151515" stroke-width="0.8"/>
<path d="M 1030.32 1646.06 C 1030.32 1620.20 1043.25 1599.88 1058.40 1586.95" fill="none" stroke="#1a1a1a" stroke-width="4.6" stroke-linejoin="round" stroke-linecap="butt" />
<path d="M 1052.86 1579.56 L 1067.64 1579.56 L 1061.72 1592.12 Z" fill="#1a1a1a" stroke="#1a1a1a" stroke-width="0.5" stroke-linejoin="round" stroke-linecap="round" />
<path d="M 408.2,527.9 L 816,527.9" fill="none" stroke="#2e2e2e" stroke-width="1.3"/>
<path d="M 563.25,445 L 563.25,382 L 1195.75,382 L 1195.75,527.8 M 1128.75,527.8 L 1244.1,527.8" fill="none" stroke="#2e2e2e" stroke-width="1.3"/>
<path d="M 408.2,678.7 L 932.5,678.7 L 932.5,575 M 713.25,582.5 L 713.25,678.7" fill="none" stroke="#2e2e2e" stroke-width="1.3"/>
<path d="M 408.2,800.7 L 827,800.7" fill="none" stroke="#2e2e2e" stroke-width="1.3"/>
<path d="M 1187.2,800.7 L 1244.1,800.7" fill="none" stroke="#2e2e2e" stroke-width="1.3"/>
<path d="M 408.3,1355.6 L 817.5,1355.6" fill="none" stroke="#2e2e2e" stroke-width="1.3"/>
<path d="M 408.3,1787 L 715,1787" fill="none" stroke="#2e2e2e" stroke-width="1.3"/>
</svg>
</body></html>
